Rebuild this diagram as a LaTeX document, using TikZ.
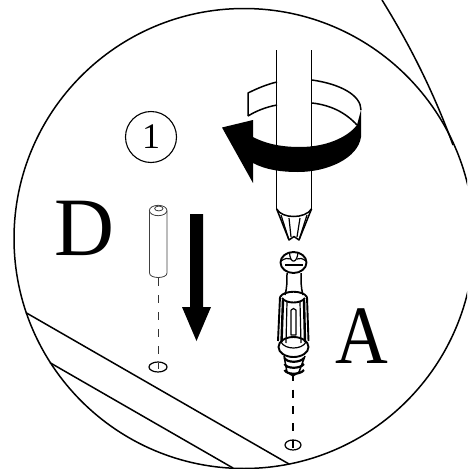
\documentclass[tikz,border=0pt]{standalone}
\usepackage{fontspec}
\usepackage{tikz}

\newfontfamily\labelfont{Liberation Serif}

\tikzset{
    outline/.style={line width=1.5pt, black, line join=round},
    detailline/.style={line width=1.2pt, black, line join=round},
    thinline/.style={line width=0.8pt, black!75},
    heavyline/.style={line width=1.9pt, black},
    guidefine/.style={line width=0.8pt, black!80, dash pattern=on 8pt off 9pt},
    guidebold/.style={line width=1.7pt, black, dash pattern=on 8pt off 8.7pt},
    letterlabel/.style={inner sep=0pt, font=\labelfont\fontsize{83}{83}\selectfont},
}

\begin{document}
\begin{tikzpicture}[x=1pt, y=-1pt]

\useasboundingbox (0,0) rectangle (467,469);
\clip (0,0) rectangle (467,469);

% Detail circle
\draw[outline] (244,238.5) circle (230);

% Outer edge at top right
\draw[outline] (382,0) .. controls (408,42) and (432,88) .. (453,145);

% Board edges
\draw[outline] (26,312.7) -- (289,464);
\draw[outline] (50,362.7) -- (233,468);

% Step number
\node[draw, circle, line width=1.1pt, minimum size=51pt, inner sep=0pt,
      font=\labelfont\fontsize{36}{36}\selectfont] (stepmark) at (151,137) {1};

% Labels
\node[letterlabel] (labeld) at (84,228) {D};
\node[letterlabel, xscale=0.88] (labela) at (362,336) {A};

% Sleeve D
\draw[thinline] (149.5,211) -- (149.5,273)
    .. controls (149.5,279) and (167,279) .. (167,273) -- (167,211);
\draw[thinline] (158.2,210.5) ellipse (8.8 and 5.2);
\draw[thinline] (158.8,208.5) ellipse (4.2 and 2.4);
\draw[guidefine] (158,278) -- (158,369);
\draw[detailline] (158,367) ellipse (9 and 5);

% Push arrow
\fill (190,214) -- (203,214) -- (203,307) -- (211,307)
    -- (196.5,341) -- (182,307) -- (190,307) -- cycle;

% Turning band, behind the shaft
\draw[outline] (248,116) -- (248,93)
    .. controls (258,88) and (268,84) .. (277,82);
\draw[outline] (248,116) .. controls (256,111) and (266,107) .. (277,105);
\draw[outline] (312,80) .. controls (340,84) and (361,95) .. (361,110);
\draw[outline] (312,103) .. controls (330,105) and (345,112) .. (357,125);

% Screwdriver shaft
\draw[outline] (276.7,50) -- (276.7,209);
\draw[outline] (311.5,50) -- (311.5,209);

% Turning arrow
\fill (222,127.5) -- (253,120) -- (253,137)
    .. controls (268,145) and (285,147) .. (300,147)
    .. controls (325,147) and (347,138) .. (357,125)
    -- (361,110) -- (361,137)
    .. controls (358,158) and (328,172) .. (298,172)
    .. controls (282,172) and (266,170) .. (253,163)
    -- (253,183) -- cycle;

% Screwdriver tip
\draw[outline] (276.7,209) .. controls (282,219) and (305,219) .. (311.5,209);
\draw[outline] (276.7,209) -- (289,240) -- (294,236.5) -- (299,240) -- (311.5,209);
\draw[detailline] (281,215) -- (289,240);
\draw[detailline] (307,215) -- (299,240);
\draw[detailline] (289,218) -- (291,237);
\draw[detailline] (300,218) -- (297,237);

% Screw head
\draw[heavyline] (293.5,262.5) ellipse (13 and 10.5);
\draw[detailline] (281,261) .. controls (285,258) and (288,258) .. (291,259);
\draw[detailline] (306,261) .. controls (302,258) and (300,258) .. (297,259);
\draw[detailline] (289.5,252.5) .. controls (290,264) and (297,264) .. (298,252.5);
\draw[detailline] (285,265) -- (303,265);

% Screw neck
\draw[outline] (287,273) .. controls (287,282) and (287,288) .. (285,295);
\draw[outline] (301,273) .. controls (301,282) and (301,288) .. (303,295);

% Screw body
\draw[heavyline] (280,297) -- (278,341);
\draw[heavyline] (307,297) -- (308.5,341);
\draw[heavyline] (280,297) .. controls (284,290) and (303,290) .. (307,297);
\draw[heavyline] (282,298) .. controls (286,304) and (301,304) .. (305,298);
\draw[line width=2.4pt] (283,300) -- (281.5,342);
\draw[line width=2.4pt] (304,300) -- (305,342);
\draw[detailline] (287,302) -- (286,343);
\draw[detailline] (300,302) -- (301,343);
\draw[detailline] (291,310) -- (291,335) -- (296,335) -- (296,310)
    .. controls (295,308) and (292,308) .. (291,310);

% Screw flange
\draw[heavyline] (293.5,347) ellipse (15 and 10);
\draw[detailline] (281,342) .. controls (285,350) and (302,350) .. (306,342);

% Screw thread
\foreach \threadrow in {358,364,370}
    \draw[line width=2.2pt]
        (284.5,\threadrow) .. controls (287,\threadrow+5) and (300,\threadrow+5) .. (304,\threadrow);
\draw[outline] (284,356) -- (287,372) -- (293,376) -- (299,372) -- (305,356);

% Guide line to the hole
\draw[guidebold] (293,373) -- (293,448);
\draw[detailline] (293,445) ellipse (8 and 5);

\end{tikzpicture}
\end{document}
